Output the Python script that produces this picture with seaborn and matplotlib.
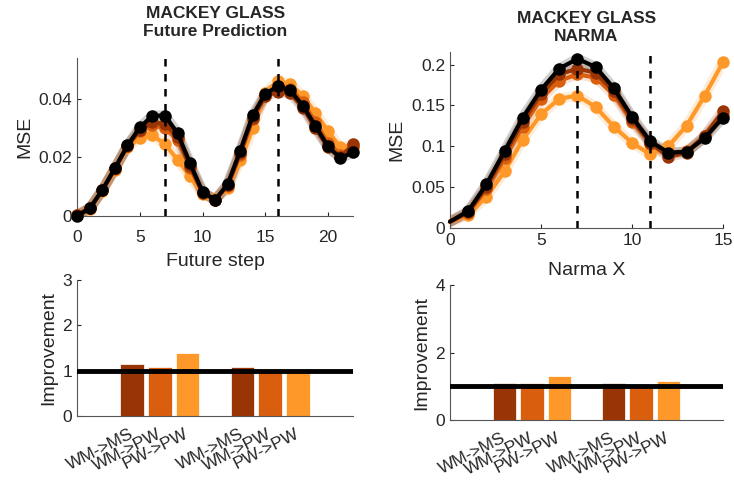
import numpy as np
import pandas as pd
import matplotlib
matplotlib.use("Agg")
import matplotlib.pyplot as plt
import matplotlib.transforms as mtransforms
import seaborn as sns

# ---------------- data ----------------
series_names = ["PW->PW", "WM->PW", "WM->MS", "Baseline"]
series_colors = ["#fe9929", "#d95f0e", "#993404", "#000000"]

fp_steps = list(range(23))
fp_light = [0.0005, 0.0025, 0.0085, 0.0158, 0.0235, 0.0268, 0.0276, 0.0245, 0.0192, 0.0135, 0.0074, 0.0058,
            0.0095, 0.0190, 0.0300, 0.0420, 0.0462, 0.0450, 0.0410, 0.0353, 0.0290, 0.0235, 0.0240]
fp_mid = [0.0005, 0.0027, 0.0088, 0.0162, 0.0240, 0.0290, 0.0310, 0.0300, 0.0260, 0.0165, 0.0078, 0.0056,
          0.0102, 0.0210, 0.0330, 0.0410, 0.0445, 0.0435, 0.0390, 0.0320, 0.0250, 0.0210, 0.0235]
fp_dark = [0.0005, 0.0027, 0.0088, 0.0163, 0.0238, 0.0295, 0.0320, 0.0315, 0.0270, 0.0170, 0.0080, 0.0055,
           0.0105, 0.0215, 0.0335, 0.0410, 0.0425, 0.0420, 0.0370, 0.0300, 0.0235, 0.0200, 0.0245]
fp_black = [0.0000, 0.0026, 0.0089, 0.0163, 0.0241, 0.0303, 0.0343, 0.0343, 0.0283, 0.0180, 0.0083, 0.0055,
            0.0109, 0.0223, 0.0344, 0.0418, 0.0443, 0.0429, 0.0377, 0.0309, 0.0238, 0.0198, 0.0217]

nm_x = list(range(16))
nm_light = [0.0074, 0.0156, 0.038, 0.069, 0.108, 0.139, 0.158, 0.162, 0.148, 0.124, 0.104, 0.090, 0.100, 0.125, 0.162, 0.203]
nm_mid = [0.0074, 0.018, 0.047, 0.085, 0.124, 0.158, 0.180, 0.188, 0.184, 0.163, 0.130, 0.103, 0.090, 0.094, 0.112, 0.138]
nm_dark = [0.0074, 0.019, 0.050, 0.090, 0.130, 0.164, 0.188, 0.195, 0.190, 0.167, 0.133, 0.104, 0.087, 0.092, 0.113, 0.143]
nm_black = [0.0074, 0.0205, 0.053, 0.094, 0.135, 0.169, 0.195, 0.207, 0.197, 0.171, 0.136, 0.106, 0.092, 0.093, 0.110, 0.135]

bar_labels = ["WM->MS", "WM->PW", "PW->PW"]
bar_colors = ["#993404", "#d95f0e", "#fe9929"]
fp_imp = [1.15, 1.08, 1.39, 1.08, 0.99, 0.97]
nm_imp = [1.09, 1.10, 1.30, 1.09, 0.98, 1.17]

fp_vlines = [7, 16]
nm_vlines = [7, 11]

# ---------------- style ----------------
sns.set_theme(style="ticks")
plt.rcParams["font.family"] = ["Liberation Sans", "DejaVu Sans"]
plt.rcParams["axes.edgecolor"] = "#262626"
plt.rcParams["xtick.color"] = "#262626"
plt.rcParams["ytick.color"] = "#262626"
plt.rcParams["xtick.direction"] = "in"
plt.rcParams["ytick.direction"] = "in"
plt.rcParams["axes.linewidth"] = 0.8

fig = plt.figure(figsize=(7.34, 4.82), dpi=100)
ax_fp = fig.add_axes([0.1053, 0.5519, 0.3756, 0.3278])
ax_nm = fig.add_axes([0.6131, 0.5276, 0.3719, 0.3639])
ax_b1 = fig.add_axes([0.1049, 0.1369, 0.3760, 0.2822])
ax_b2 = fig.add_axes([0.6131, 0.1286, 0.3719, 0.2801])

TFS = 12.5   # tick labels
LFS = 14     # axis labels
TITLE_FS = 12.5


def line_panel(ax, x, ys, vlines, skip_first):
    frames = []
    for name, y in zip(series_names, ys):
        frames.append(pd.DataFrame({"x": x, "y": y, "series": name}))
    df = pd.concat(frames, ignore_index=True)
    pal = dict(zip(series_names, series_colors))
    # translucent halo (shaded band look)
    for name in series_names:
        sub = df[df["series"] == name]
        sns.lineplot(data=sub, x="x", y="y", color=pal[name], lw=7.5, alpha=0.18,
                     ax=ax, legend=False, zorder=2)
    for k, name in enumerate(series_names):
        sub = df[df["series"] == name]
        kw = {}
        if skip_first:
            kw["markevery"] = slice(1, None)
        sns.lineplot(data=sub, x="x", y="y", color=pal[name], lw=3.0, marker="o",
                     markersize=9, markeredgewidth=0, ax=ax, legend=False,
                     zorder=3 + k, clip_on=False, **kw)
    for v in vlines:
        ax.axvline(v, color="black", ls=(0, (3, 3)), lw=1.8, zorder=10)


line_panel(ax_fp, fp_steps, [fp_light, fp_mid, fp_dark, fp_black], fp_vlines, False)
ax_fp.set_xlim(0, 22)
ax_fp.set_ylim(0, 0.054)
ax_fp.set_xticks([0, 5, 10, 15, 20])
ax_fp.set_yticks([0, 0.02, 0.04])
ax_fp.set_yticklabels(["0", "0.02", "0.04"])
ax_fp.set_xlabel("Future step", fontsize=LFS, color="#262626", labelpad=6)
ax_fp.set_ylabel("MSE", fontsize=LFS, color="#262626", labelpad=4)
ax_fp.set_title("MACKEY GLASS\nFuture Prediction", fontsize=TITLE_FS, fontweight="bold",
                pad=16, linespacing=1.25)

line_panel(ax_nm, nm_x, [nm_light, nm_mid, nm_dark, nm_black], nm_vlines, True)
ax_nm.set_xlim(0, 15)
ax_nm.set_ylim(0, 0.215)
ax_nm.set_xticks([0, 5, 10, 15])
ax_nm.set_yticks([0, 0.05, 0.1, 0.15, 0.2])
ax_nm.set_yticklabels(["0", "0.05", "0.1", "0.15", "0.2"])
ax_nm.set_xlabel("Narma X", fontsize=LFS, color="#262626", labelpad=10)
ax_nm.set_ylabel("MSE", fontsize=LFS, color="#262626", labelpad=4)
ax_nm.set_title("MACKEY GLASS\nNARMA", fontsize=TITLE_FS, fontweight="bold", pad=8,
                linespacing=1.25)


def bar_panel(ax, vals, ymax, yticks):
    pos = []
    labs = []
    for g in range(2):
        for i, lab in enumerate(bar_labels):
            pos.append(g * 4 + i)
            labs.append(lab)
    df = pd.DataFrame({"pos": pos, "val": vals, "comp": labs})
    sns.barplot(data=df, x="pos", y="val", hue="comp", hue_order=bar_labels,
                palette=dict(zip(bar_labels, bar_colors)), dodge=False,
                native_scale=True, width=0.85, errorbar=None, legend=False,
                ax=ax, saturation=1, edgecolor="white", linewidth=0.5)
    ax.axhline(1, color="black", lw=3.5, zorder=10)
    ax.set_xlim(-2, 8)
    ax.set_ylim(0, ymax)
    ax.set_yticks(yticks)
    ax.set_xticks(pos)
    ax.set_xticklabels(labs, rotation=27, ha="right", va="center",
                       rotation_mode="anchor", fontsize=TFS)
    ax.tick_params(axis="x", pad=12)
    off = mtransforms.ScaledTranslation(6 / 100, 0, fig.dpi_scale_trans)
    for t in ax.get_xticklabels():
        t.set_transform(t.get_transform() + off)
    ax.set_xlabel("")
    ax.set_ylabel("Improvement", fontsize=LFS, color="#262626", labelpad=4)


bar_panel(ax_b1, fp_imp, 3, [0, 1, 2, 3])
bar_panel(ax_b2, nm_imp, 4, [0, 2, 4])

for ax in [ax_fp, ax_nm, ax_b1, ax_b2]:
    sns.despine(ax=ax)
    ax.tick_params(axis="y", labelsize=TFS, length=3, width=0.8)
    ax.tick_params(axis="x", length=3, width=0.8)
    ax.spines["left"].set_color("#555555")
    ax.spines["bottom"].set_color("#555555")
ax_fp.tick_params(axis="x", labelsize=TFS, pad=10)
ax_nm.tick_params(axis="x", labelsize=TFS, pad=4)

fig.savefig("out.png", dpi=100)
